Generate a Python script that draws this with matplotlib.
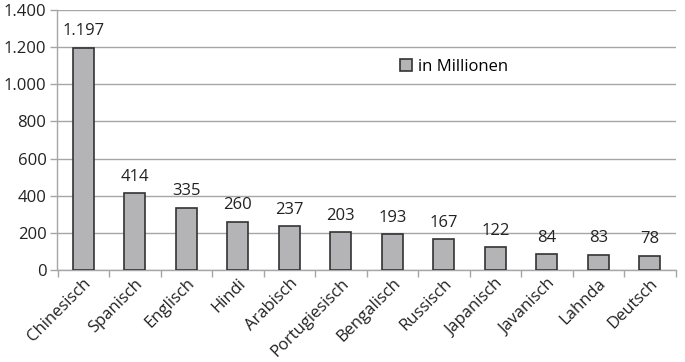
import matplotlib
matplotlib.use("Agg")
import matplotlib.pyplot as plt
from matplotlib.ticker import FuncFormatter

categories = ["Chinesisch", "Spanisch", "Englisch", "Hindi", "Arabisch", "Portugiesisch",
              "Bengalisch", "Russisch", "Japanisch", "Javanisch", "Lahnda", "Deutsch"]
values = [1197, 414, 335, 260, 237, 203, 193, 167, 122, 84, 83, 78]
yticks = [0, 200, 400, 600, 800, 1000, 1200, 1400]

plt.rcParams['font.family'] = ['Open Sans', 'DejaVu Sans']
FS = 12

def fmt(v):
    return f"{int(v):,}".replace(",", ".")

fig = plt.figure(figsize=(6.85, 3.62), dpi=100)
ax = fig.add_axes([57.5/685, 1 - 270/362, 618/685, 260/362])

x = list(range(len(categories)))
bars = ax.bar(x, values, width=0.41, color="#B4B4B6", edgecolor="#333333", linewidth=1.2,
              label="in Millionen", zorder=3)
for xi, v in zip(x, values):
    ax.text(xi, v + 45, fmt(v), ha="center", va="bottom", fontsize=FS, color="#222222")

ax.set_xlim(-0.5, len(categories) - 0.5)
ax.set_ylim(0, 1400)
ax.set_yticks(yticks)
ax.yaxis.set_major_formatter(FuncFormatter(lambda v, p: fmt(v)))
ax.yaxis.grid(True, color="#A6A6A6", linewidth=1)
ax.set_axisbelow(True)

ax.set_xticks(x)
ax.set_xticklabels(categories, rotation=45, ha="right", rotation_mode="anchor", fontsize=FS, color="#222222")
ax.set_xticks([i + 0.5 for i in range(-1, len(categories))], minor=True)
ax.tick_params(axis="x", which="major", length=0, pad=4)
ax.tick_params(axis="x", which="minor", length=5, color="#A6A6A6", width=1)
ax.tick_params(axis="y", length=5, color="#A6A6A6", width=1, labelsize=FS, labelcolor="#222222", pad=3)

for s in ["top", "right"]:
    ax.spines[s].set_visible(False)
for s in ["left", "bottom"]:
    ax.spines[s].set_color("#A6A6A6")
    ax.spines[s].set_linewidth(1)

leg = ax.legend(loc="upper left", bbox_to_anchor=(0.53, 0.87), frameon=False, fontsize=FS,
                handlelength=0.7, handleheight=0.7, handletextpad=0.4)

fig.savefig("out.png", dpi=100)
